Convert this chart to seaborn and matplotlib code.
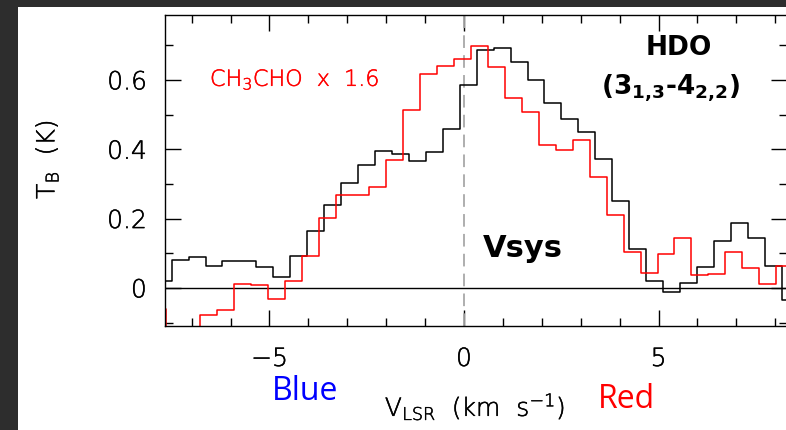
import numpy as np
import matplotlib
matplotlib.use("Agg")
import matplotlib.pyplot as plt
import matplotlib.patheffects as pe
from matplotlib.patches import Rectangle
from matplotlib.ticker import FixedLocator, MultipleLocator, FuncFormatter
import seaborn as sns

# ------ DATA ------
# HDO (3_1,3 - 4_2,2), channel centres in km/s and T_B in K
vel_hdo = [-7.733, -7.297, -6.861, -6.426, -5.990, -5.555, -5.119, -4.683,
           -4.248, -3.812, -3.377, -2.941, -2.505, -2.070, -1.634, -1.199,
           -0.763, -0.327, 0.108, 0.544, 0.979, 1.415, 1.851, 2.286,
           2.722, 3.157, 3.593, 4.029, 4.464, 4.900, 5.335, 5.771,
           6.207, 6.642, 7.078, 7.513, 7.949, 8.385]
tb_hdo = [0.021, 0.081, 0.088, 0.064, 0.079, 0.079, 0.060, 0.031,
          0.093, 0.163, 0.240, 0.304, 0.355, 0.396, 0.385, 0.365,
          0.392, 0.457, 0.586, 0.685, 0.691, 0.653, 0.601, 0.534,
          0.486, 0.449, 0.372, 0.250, 0.111, 0.019, -0.013, 0.014,
          0.059, 0.135, 0.188, 0.144, 0.063, -0.034]

# CH3CHO scaled by 1.6
vel_ch3cho = [-7.876, -7.440, -7.005, -6.569, -6.133, -5.698, -5.262, -4.827,
              -4.391, -3.955, -3.520, -3.084, -2.649, -2.213, -1.777, -1.342,
              -0.906, -0.471, -0.035, 0.401, 0.836, 1.272, 1.707, 2.143,
              2.579, 3.014, 3.450, 3.885, 4.321, 4.757, 5.192, 5.628,
              6.063, 6.499, 6.935, 7.370, 7.806, 8.241, 8.677]
tb_ch3cho = [-0.060, -0.140, -0.140, -0.078, -0.063, 0.012, 0.007, -0.032,
             0.021, 0.093, 0.203, 0.269, 0.269, 0.292, 0.370, 0.513,
             0.616, 0.641, 0.661, 0.697, 0.637, 0.548, 0.507, 0.411,
             0.398, 0.428, 0.319, 0.209, 0.103, 0.042, 0.098, 0.143,
             0.038, 0.040, 0.103, 0.057, 0.010, 0.064, 0.064]

x_major = [-5, 0, 5]
y_major = [0, 0.2, 0.4, 0.6]

# ------ STYLE ------
sns.set_style("ticks")
plt.rcParams["font.family"] = ["DejaVu Sans"]
plt.rcParams["mathtext.default"] = "regular"
plt.rcParams["text.color"] = "black"
plt.rcParams["axes.labelcolor"] = "black"
plt.rcParams["xtick.color"] = "black"
plt.rcParams["ytick.color"] = "black"

W, H = 786, 431
fig = plt.figure(figsize=(W / 100, H / 100), dpi=100)
fig.patch.set_facecolor("#2d2d2d")
fig.patches.append(Rectangle((18 / W, 0), 1 - 18 / W, 1 - 8 / H,
                             transform=fig.transFigure, facecolor="white",
                             edgecolor="none", zorder=-5))


def px(x, y):
    return x / W, 1 - y / H


# thin pgplot-like lettering: extra-light face with a hairline stroke
thin_black = [pe.withStroke(linewidth=0.35, foreground="black")]
thin_red = [pe.withStroke(linewidth=0.35, foreground="red")]

ax = fig.add_axes([165 / W, (H - 326.7) / H, (787 - 165) / W, (326.7 - 15.7) / H])
ax.set_facecolor("white")

# ------ SPECTRA ------
sns.lineplot(x=vel_hdo, y=tb_hdo, ax=ax, color="black", lw=1.1,
             drawstyle="steps-mid", estimator=None, sort=False)
sns.lineplot(x=vel_ch3cho, y=tb_ch3cho, ax=ax, color="red", lw=1.1,
             drawstyle="steps-mid", estimator=None, sort=False)

ax.axhline(0, color="black", lw=1.0, zorder=1)
ax.axvline(0, color="#a8a8a8", lw=1.3, ls=(0, (7, 4)), zorder=1)

ax.set_xlim(-7.686, 8.303)
ax.set_ylim(-0.109, 0.788)

# ------ AXES / TICKS ------
for s in ax.spines.values():
    s.set_visible(True)
    s.set_linewidth(1.0)
    s.set_color("black")

ax.xaxis.set_major_locator(FixedLocator(x_major))
ax.xaxis.set_minor_locator(MultipleLocator(1))
ax.yaxis.set_major_locator(FixedLocator(y_major))
ax.yaxis.set_minor_locator(MultipleLocator(0.1))
ax.xaxis.set_major_formatter(FuncFormatter(lambda v, p: f"{v:.0f}".replace("-", "\u2212")))
ax.yaxis.set_major_formatter(FuncFormatter(lambda v, p: "0" if abs(v) < 1e-9 else f"{v:.1f}"))

ax.tick_params(which="both", direction="in", top=True, right=True,
               color="black", labelcolor="black", width=1.0)
ax.tick_params(which="major", length=11.5)
ax.tick_params(which="minor", length=5.8)
ax.tick_params(axis="x", which="major", pad=15.3, labelsize=18)
ax.tick_params(axis="y", which="major", pad=13, labelsize=18)
for lab in ax.get_xticklabels() + ax.get_yticklabels():
    lab.set_fontweight("light")
    lab.set_path_effects(thin_black)

ax.set_xlabel("V$_{LSR}$  (km  s$^{-1}$)", fontsize=18, fontweight="light",
              color="black", va="baseline", path_effects=thin_black)
ax.xaxis.set_label_coords((475 - 165) / 622, (326.7 - 417) / 311)
ax.set_ylabel("T$_B$  (K)", fontsize=18, fontweight="light", color="black",
              va="center", path_effects=thin_black)
ax.yaxis.set_label_coords((47 - 165) / 622, (326.7 - 160.5) / 311)

# ------ ANNOTATIONS ------
fig.text(*px(210, 87), "CH$_3$CHO  x  1.6", color="red", fontsize=16,
         fontweight="light", ha="left", va="baseline", path_effects=thin_red)
fig.text(*px(679, 55), "HDO", color="black", fontsize=19, fontweight="bold",
         ha="center", va="baseline")
fig.text(*px(670, 95), "(3$_{1{,}3}$-4$_{2{,}2}$)", color="black", fontsize=19,
         fontweight="bold", ha="center", va="baseline")
fig.text(*px(523, 257), "Vsys", color="black", fontsize=22, fontweight="bold",
         ha="center", va="baseline")
fig.text(*px(305, 400), "Blue", color="blue", fontsize=23, family="Open Sans",
         ha="center", va="baseline")
fig.text(*px(626.5, 408), "Red", color="red", fontsize=23, family="Open Sans",
         ha="center", va="baseline")

fig.savefig("out.png", dpi=100, facecolor=fig.get_facecolor())
